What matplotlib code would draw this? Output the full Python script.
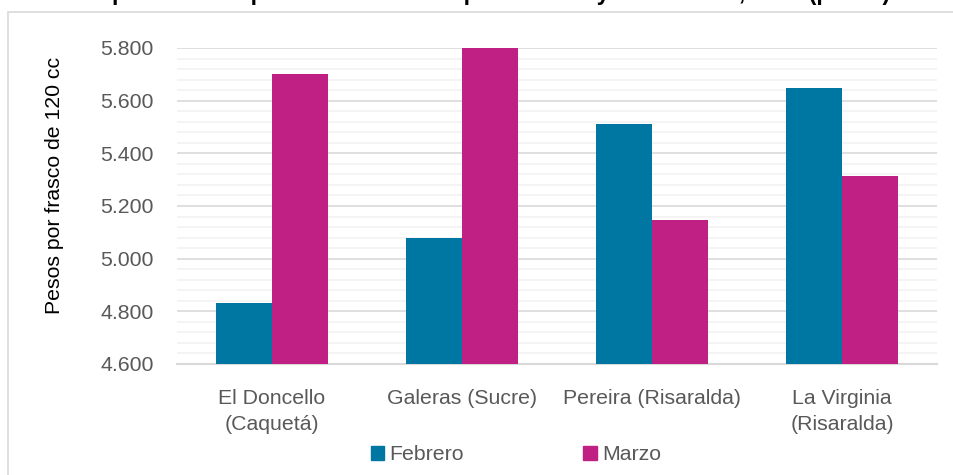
import matplotlib
matplotlib.use("Agg")
import matplotlib.pyplot as plt
import numpy as np
from matplotlib.patches import Rectangle, Patch
from matplotlib.ticker import MultipleLocator, FuncFormatter

municipios = ["El Doncello\n(Caquetá)", "Galeras (Sucre)", "Pereira (Risaralda)", "La Virginia\n(Risaralda)"]
febrero = [4.831, 5.078, 5.511, 5.649]
marzo = [5.700, 5.800, 5.148, 5.315]
series = ["Febrero", "Marzo"]
titulo = "Precios del repelente escopolamina en municipios con mayor variación, 2020 (pesos)"

c_feb = "#0076A3"
c_mar = "#C02084"
W, H = 954, 475

plt.rcParams["font.family"] = ["Liberation Sans", "DejaVu Sans"]
fs = 15.3

fig = plt.figure(figsize=(W / 100, H / 100), dpi=100)
ax = fig.add_axes([177 / W, 1 - 364 / H, (937 - 177) / W, (364 - 48) / H])

# chart area border (partly off canvas)
fig.patches.append(Rectangle((8 / W, -0.1), 1.2, 1 - 12 / H + 0.1, transform=fig.transFigure,
                             fill=False, edgecolor="#d9d9d9", linewidth=1.2))

x = np.arange(len(municipios))
w = 0.295
ax.bar(x - w / 2, febrero, w, color=c_feb, zorder=3)
ax.bar(x + w / 2, marzo, w, color=c_mar, zorder=3)

ax.set_xlim(-0.5, len(municipios) - 0.5)
ax.set_ylim(4.6, 5.8)
ax.yaxis.set_major_locator(MultipleLocator(0.2))
ax.yaxis.set_minor_locator(MultipleLocator(0.04))
ax.yaxis.set_major_formatter(FuncFormatter(lambda v, p: f"{v:.3f}"))
ax.grid(axis="y", which="major", color="#d9d9d9", linewidth=1.2, zorder=0)
ax.grid(axis="y", which="minor", color="#f2f2f2", linewidth=1.2, zorder=0)
ax.set_axisbelow(True)

for s in ["top", "right", "left"]:
    ax.spines[s].set_visible(False)
ax.spines["bottom"].set_color("#d9d9d9")
ax.spines["bottom"].set_linewidth(1.5)

ax.set_xticks(x)
ax.set_xticklabels(municipios, fontsize=fs, color="#595959", linespacing=1.45)
ax.tick_params(axis="x", length=0, pad=18)
ax.tick_params(axis="y", which="both", length=0, labelsize=fs, labelcolor="#595959", pad=17)

fig.text(55 / W, 1 - 185 / H, "Pesos por frasco de 120 cc", rotation=90,
         ha="center", va="center", fontsize=fs, color="#000000")

# title sits mostly above the canvas, only descenders show
fig.text(-38 / W, 1.0, titulo, ha="left", va="baseline",
         fontsize=16.5, fontweight="bold", color="#000000")

handles = [Patch(color=c_feb), Patch(color=c_mar)]
fig.legend(handles, series, loc="center", bbox_to_anchor=(516 / W, 1 - 455 / H), ncol=2,
           frameon=False, fontsize=fs, labelcolor="#595959", handlelength=0.65, handleheight=0.65,
           handletextpad=0.25, columnspacing=5.6)

fig.savefig("out.png", dpi=100)
